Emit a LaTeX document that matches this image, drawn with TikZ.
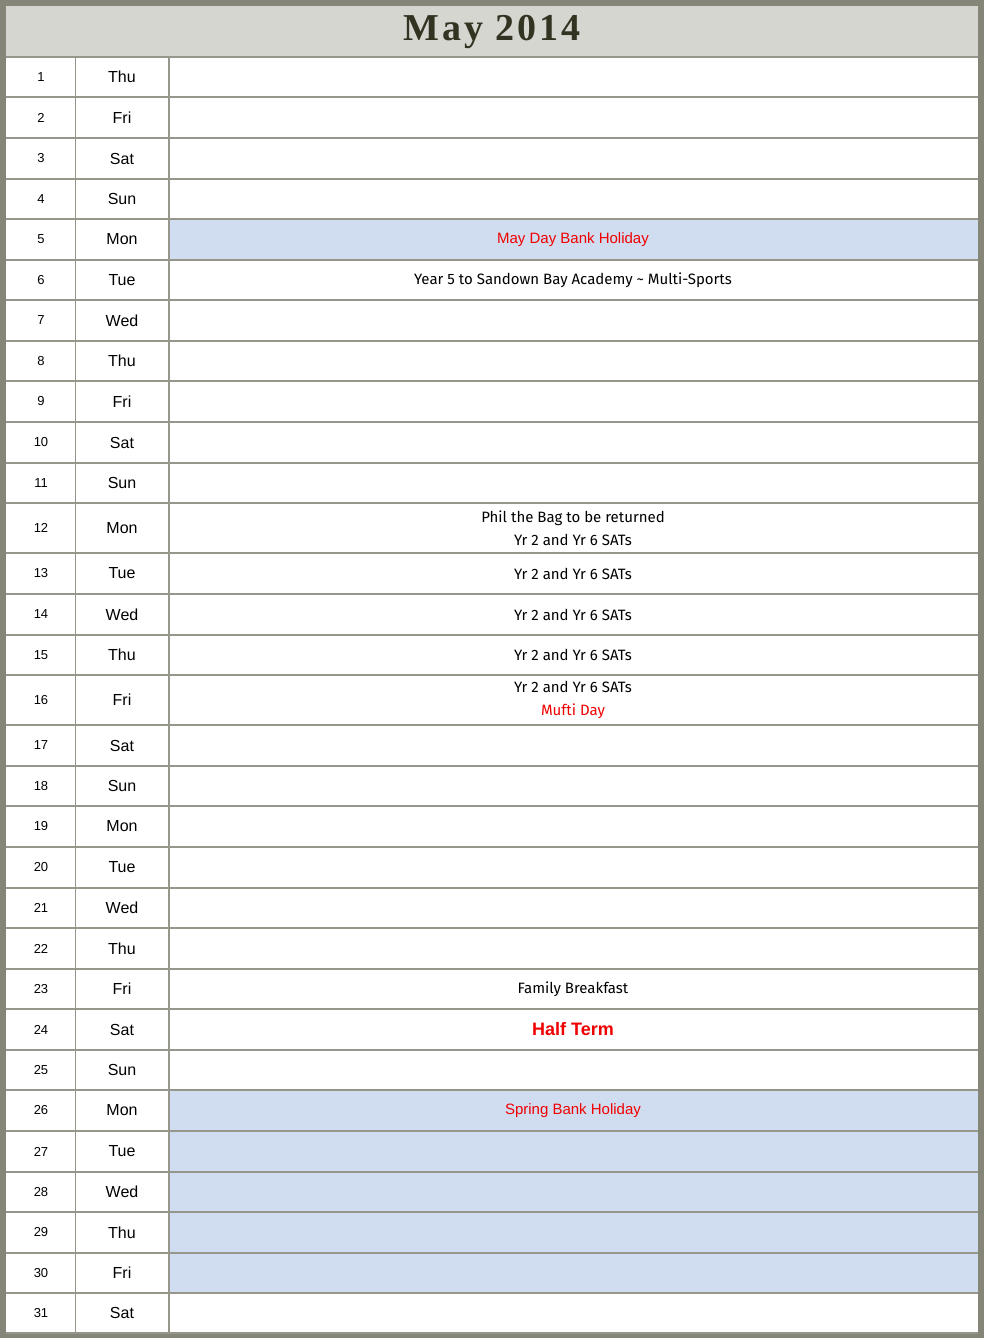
\documentclass[tikz,border=0pt]{standalone}
\usepackage{fontspec}
\setmainfont{Liberation Sans}
\newfontfamily\titlefont[LetterSpace=8]{Liberation Serif}
\newfontfamily\evfont{Fira Sans}
\definecolor{frame}{RGB}{134,134,120}
\definecolor{titlebg}{RGB}{214,214,208}
\definecolor{titletxt}{RGB}{51,51,34}
\definecolor{grid}{RGB}{150,150,138}
\definecolor{hol}{RGB}{208,220,240}
\definecolor{evred}{RGB}{240,0,0}
\begin{document}
\begin{tikzpicture}[x=1pt,y=-1pt,
  num/.style={font=\fontsize{13}{15}\selectfont},
  day/.style={font=\fontsize{16}{18}\selectfont},
  ev/.style={font=\evfont\fontsize{15}{23}\selectfont,align=center}]
\useasboundingbox (0,0) rectangle (984,1338);
\fill[frame] (0,0) rectangle (984,1338);
\fill[titlebg] (6,6) rectangle (978,57);
\fill[white] (6,57) rectangle (978,1333);
\fill[hol] (169,219) rectangle (978,260);
\fill[hol] (169,1090) rectangle (978,1293);
\node[font=\titlefont\bfseries\fontsize{38}{40}\selectfont,text=titletxt] (title) at (492,32) {May 2014};
\foreach \t/\b/\n/\d [count=\i] in {57/97/1/Thu,97/138/2/Fri,138/179/3/Sat,179/219/4/Sun,219/260/5/Mon,260/300/6/Tue,300/341/7/Wed,341/381/8/Thu,381/422/9/Fri,422/463/10/Sat,463/503/11/Sun,503/553/12/Mon,553/594/13/Tue,594/635/14/Wed,635/675/15/Thu,675/725/16/Fri,725/766/17/Sat,766/806/18/Sun,806/847/19/Mon,847/888/20/Tue,888/928/21/Wed,928/969/22/Thu,969/1009/23/Fri,1009/1050/24/Sat,1050/1090/25/Sun,1090/1131/26/Mon,1131/1172/27/Tue,1172/1212/28/Wed,1212/1253/29/Thu,1253/1293/30/Fri,1293/1333/31/Sat}{
  \draw[grid,line width=1.5pt] (6,\b) -- (978,\b);
  \node[num] (n\i) at (41,{(\t+\b)/2}) {\n};
  \node[day] (d\i) at (122,{(\t+\b)/2}) {\d};
  \coordinate (r\i) at (573,{(\t+\b)/2});
}
\draw[grid,line width=1.5pt] (6,57) -- (978,57);
\draw[grid,line width=1.5pt] (75.5,57) -- (75.5,1333) (169,57) -- (169,1333);
\node[font=\fontsize{15}{17}\selectfont,text=evred] (e5) at (r5) {May Day Bank Holiday};
\node[ev] (e6) at (r6) {Year 5 to Sandown Bay Academy \textasciitilde{} Multi-Sports};
\node[ev] (e12) at (r12) {Phil the Bag to be returned\\Yr 2 and Yr 6 SATs};
\node[ev] (e13) at (r13) {Yr 2 and Yr 6 SATs};
\node[ev] (e14) at (r14) {Yr 2 and Yr 6 SATs};
\node[ev] (e15) at (r15) {Yr 2 and Yr 6 SATs};
\node[ev] (e16) at (r16) {Yr 2 and Yr 6 SATs\\\textcolor{evred}{Mufti Day}};
\node[ev] (e23) at (r23) {Family Breakfast};
\node[font=\bfseries\fontsize{18}{20}\selectfont,text=evred] (e24) at (r24) {Half Term};
\node[font=\fontsize{15}{17}\selectfont,text=evred] (e26) at (r26) {Spring Bank Holiday};
\end{tikzpicture}
\end{document}
